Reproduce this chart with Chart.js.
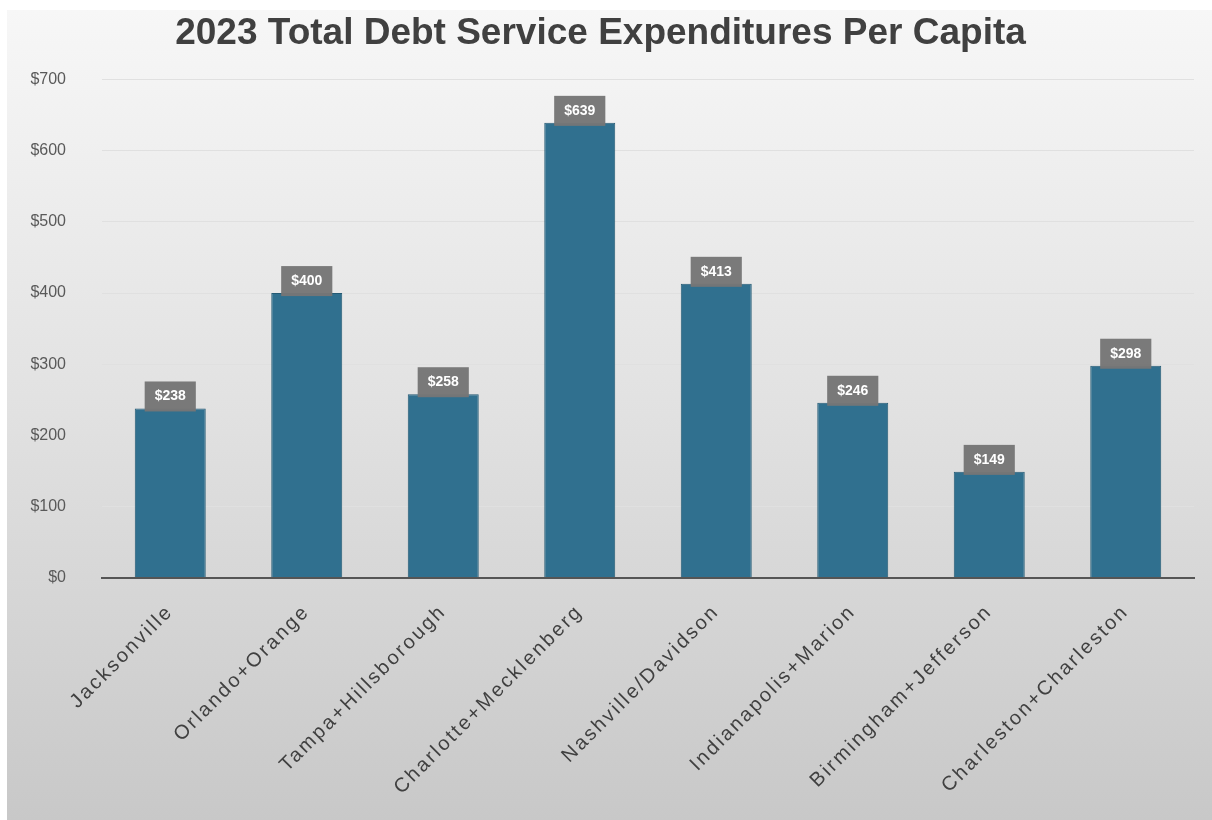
<!DOCTYPE html>
<html>
<head>
<meta charset="utf-8">
<script src="https://cdn.jsdelivr.net/npm/chart.js@4.4.0/dist/chart.umd.min.js"></script>
<style>
  html, body { margin: 0; padding: 0; background: #ffffff; }
  #wrap { position: absolute; left: 7px; top: 10px; width: 1205px; height: 810px; }
</style>
</head>
<body>
<div id="wrap"><canvas id="c"></canvas></div>
<script>
const categories = ["Jacksonville", "Orlando+Orange", "Tampa+Hillsborough", "Charlotte+Mecklenberg", "Nashville/Davidson", "Indianapolis+Marion", "Birmingham+Jefferson", "Charleston+Charleston"];
const perCapita = [238, 400, 258, 639, 413, 246, 149, 298];
const yTickMax = 700;
const yTickStep = 100;
const titleText = "2023 Total Debt Service Expenditures Per Capita";

const bgPlugin = {
  id: 'bg',
  beforeDraw(chart) {
    const { ctx, width, height } = chart;
    ctx.save();
    const g = ctx.createLinearGradient(0, 0, 0, height);
    g.addColorStop(0, '#f7f7f7');
    g.addColorStop(0.5, '#e1e1e1');
    g.addColorStop(1, '#c8c8c8');
    ctx.fillStyle = g;
    ctx.fillRect(0, 0, width, height);
    ctx.restore();
    ctx.letterSpacing = '0px';
  },
  afterDraw(chart) {
    chart.ctx.letterSpacing = '0px';
  }
};

const labelPlugin = {
  id: 'valLabels',
  afterDatasetsDraw(chart) {
    const { ctx } = chart;
    const meta = chart.getDatasetMeta(0);
    ctx.save();
    ctx.letterSpacing = '0px';
    ctx.font = 'bold 14px "Liberation Sans", Arial, sans-serif';
    ctx.textAlign = 'center';
    ctx.textBaseline = 'middle';
    meta.data.forEach((bar, i) => {
      const txt = '$' + perCapita[i];
      const w = ctx.measureText(txt).width + 20;
      const h = 30;
      const top = bar.y - 27;
      ctx.fillStyle = 'rgba(118,118,118,0.97)';
      ctx.fillRect(bar.x - w / 2, top, w, h);
      ctx.fillStyle = '#ffffff';
      ctx.fillText(txt, bar.x, top + 15);
    });
    ctx.restore();
    // spaced lettering for the category axis labels, which are drawn next (ticks z: 1)
    ctx.letterSpacing = '2.4px';
  }
};

new Chart(document.getElementById('c'), {
  type: 'bar',
  data: {
    labels: categories,
    datasets: [{
      data: perCapita,
      backgroundColor: '#30708f',
      borderColor: '#245a74',
      borderWidth: 1,
      categoryPercentage: 1.0,
      barPercentage: 0.52
    }]
  },
  options: {
    responsive: true,
    maintainAspectRatio: false,
    animation: false,
    layout: { padding: { left: 0, right: 18, top: 0, bottom: 0 } },
    plugins: {
      legend: { display: false },
      tooltip: { enabled: false },
      title: {
        display: true,
        text: titleText,
        color: '#404040',
        font: { family: '"Liberation Sans", Arial, sans-serif', size: 37, weight: 'bold' },
        padding: { top: 2, bottom: 23 }
      }
    },
    scales: {
      x: {
        grid: { display: false, drawTicks: false },
        border: { display: true, color: '#555555', width: 2, z: 1 },
        ticks: {
          z: 1,
          color: '#404040',
          font: { family: '"Liberation Sans", Arial, sans-serif', size: 20 },
          minRotation: 45,
          maxRotation: 45,
          padding: 22
        },
        afterFit(scale) { scale.height = 242; }
      },
      y: {
        min: 0,
        max: yTickMax,
        grid: { color: '#e0e0e0', lineWidth: 1, drawTicks: false },
        border: { display: false },
        ticks: {
          stepSize: yTickStep,
          color: '#595959',
          font: { family: '"Liberation Sans", Arial, sans-serif', size: 16 },
          padding: 36,
          callback: v => '$' + v
        },
        afterFit(scale) { scale.width = 95; }
      }
    }
  },
  plugins: [bgPlugin, labelPlugin]
});
</script>
</body>
</html>
